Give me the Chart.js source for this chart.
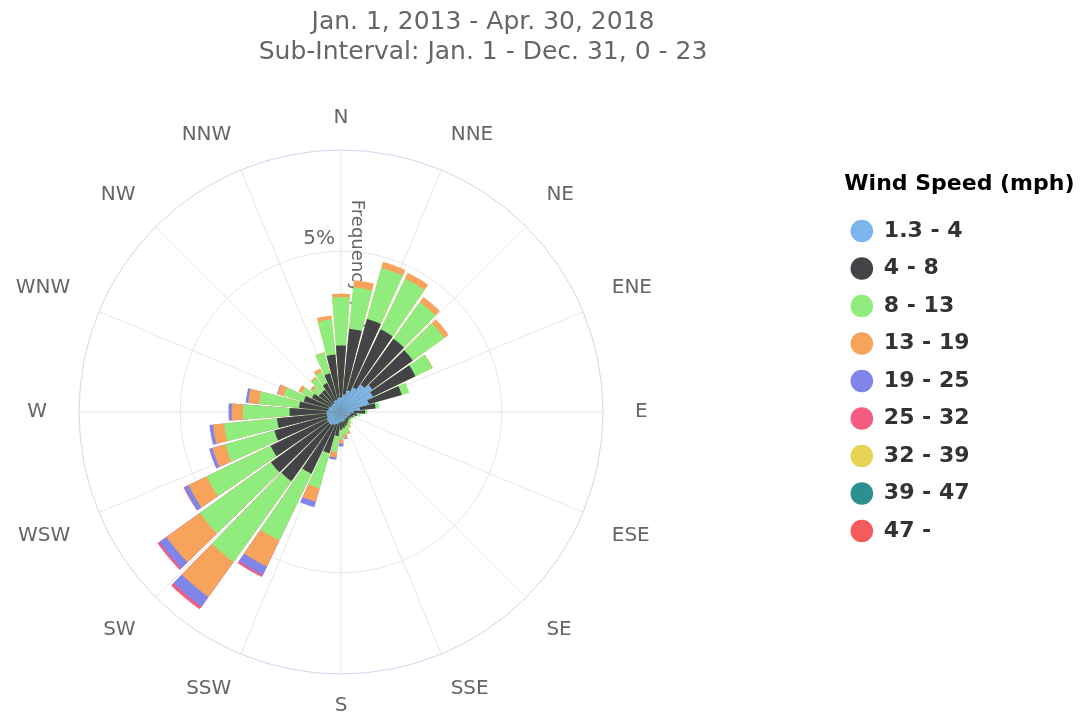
<!DOCTYPE html>
<html>
<head>
<meta charset="utf-8">
<title>Wind Rose</title>
<script src="https://cdn.jsdelivr.net/npm/chart.js@4.4.1/dist/chart.umd.min.js"></script>
<style>
    html, body { margin: 0; padding: 0; background: #fff; }
</style>
</head>
<body>
<canvas id="rose" width="1086" height="719"></canvas>
<script>
// compass points shown round the rose
const compassLabels = ['N', 'NNE', 'NE', 'ENE', 'E', 'ESE', 'SE', 'SSE', 'S', 'SSW', 'SW', 'WSW', 'W', 'WNW', 'NW', 'NNW']

// wind direction bins, degrees clockwise from north
const directions = [0, 10, 20, 30, 40, 50, 60, 70, 80, 90, 100, 110, 120, 130, 140, 150, 160, 170,
    180, 190, 200, 210, 220, 230, 240, 250, 260, 270, 280, 290, 300, 310, 320, 330, 340, 350]

const speedBins = ['1.3 - 4', '4 - 8', '8 - 13', '13 - 19', '19 - 25', '25 - 32', '32 - 39', '39 - 47', '47 -']
const binColors = ['#7cb5ec', '#434348', '#90ed7d', '#f7a35c', '#8085e9', '#f15c80', '#e4d354', '#2b908f', '#f45b5b']

// frequency (%) per direction for each speed bin
const freq_1_4 = [0.45, 0.55, 0.70, 0.85, 1.05, 1.20, 1.10, 0.90, 0.60, 0.40, 0.30, 0.28, 0.25, 0.25, 0.25, 0.25, 0.28, 0.30,
    0.30, 0.35, 0.40, 0.45, 0.50, 0.50, 0.50, 0.45, 0.45, 0.45, 0.40, 0.40, 0.35, 0.35, 0.35, 0.40, 0.40, 0.45]
const freq_4_8 = [1.62, 2.05, 2.30, 2.00, 1.75, 1.55, 1.47, 1.06, 0.48, 0.35, 0.20, 0.12, 0.10, 0.08, 0.10, 0.15, 0.17, 0.20,
    0.25, 0.40, 0.93, 1.68, 2.15, 2.18, 1.93, 1.70, 1.55, 1.15, 0.91, 0.80, 0.65, 0.50, 0.50, 0.60, 0.85, 1.35]
const freq_8_13 = [1.50, 1.30, 1.65, 1.75, 1.40, 1.20, 0.58, 0.24, 0.12, 0.07, 0.10, 0.08, 0.07, 0.07, 0.10, 0.12, 0.20, 0.22,
    0.30, 0.50, 1.14, 2.30, 3.09, 2.72, 2.21, 1.59, 1.65, 1.45, 1.25, 0.65, 0.35, 0.25, 0.45, 0.40, 0.67, 1.10]
const freq_13_19 = [0.11, 0.22, 0.20, 0.20, 0.20, 0.17, 0.02, 0, 0, 0, 0, 0, 0, 0, 0.02, 0.04, 0.07, 0.10,
    0.13, 0.17, 0.43, 0.90, 1.34, 1.28, 0.62, 0.41, 0.35, 0.35, 0.34, 0.20, 0.12, 0.08, 0.05, 0.10, 0.02, 0.12]
const freq_19_25 = [0, 0, 0, 0, 0, 0, 0, 0, 0, 0, 0, 0, 0, 0, 0, 0, 0, 0.03,
    0.09, 0.07, 0.18, 0.29, 0.37, 0.27, 0.15, 0.11, 0.11, 0.10, 0.08, 0.02, 0, 0, 0, 0, 0, 0]
const freq_25_32 = [0, 0, 0, 0, 0, 0, 0, 0, 0, 0, 0, 0, 0, 0, 0, 0, 0, 0,
    0, 0, 0, 0.07, 0.10, 0.07, 0.02, 0, 0, 0, 0, 0, 0, 0, 0, 0, 0, 0]
const freq_32_39 = [0, 0, 0, 0, 0, 0, 0, 0, 0, 0, 0, 0, 0, 0, 0, 0, 0, 0,
    0, 0, 0, 0, 0, 0, 0, 0, 0, 0, 0, 0, 0, 0, 0, 0, 0, 0]
const freq_39_47 = [0, 0, 0, 0, 0, 0, 0, 0, 0, 0, 0, 0, 0, 0, 0, 0, 0, 0,
    0, 0, 0, 0, 0, 0, 0, 0, 0, 0, 0, 0, 0, 0, 0, 0, 0, 0]
const freq_47 = [0, 0, 0, 0, 0, 0, 0, 0, 0, 0, 0, 0, 0, 0, 0, 0, 0, 0,
    0, 0, 0, 0, 0, 0, 0, 0, 0, 0, 0, 0, 0, 0, 0, 0, 0, 0]

const series = [freq_1_4, freq_4_8, freq_8_13, freq_13_19, freq_19_25, freq_25_32, freq_32_39, freq_39_47, freq_47]
const rMax = 8.15

// polar area slots: a bar per direction with a small empty slot between bars.
// the north bar is split in two halves so it sits centred on the N line
const barWidth = 8.8
const gapWidth = 10 - barWidth
const slotDir = [0, -1]
const slotAngle = [barWidth / 2, gapWidth]
for (let d = 1; d < directions.length; d++) {
    slotDir.push(d, -1)
    slotAngle.push(barWidth, gapWidth)
}
slotDir.push(0)
slotAngle.push(barWidth / 2)

// stacking: each dataset holds the running total, smaller totals are drawn on top
let running = directions.map(() => 0)
const datasets = series.map((values, k) => {
    running = running.map((r, d) => r + values[d])
    const top = running.slice()
    return {
        label: speedBins[k],
        data: slotDir.map(d => (d < 0 || values[d] === 0) ? 0 : top[d]),
        backgroundColor: binColors[k],
        borderWidth: 0,
        angle: slotAngle
    }
})

const extraText = {
    id: 'extraText',
    beforeDatasetsDraw(chart) {
        const r = chart.scales.r
        const ctx = chart.ctx
        ctx.save()
        ctx.fillStyle = '#666'
        ctx.font = '20px "DejaVu Sans"'
        ctx.textAlign = 'right'
        ctx.textBaseline = 'bottom'
        ctx.fillText('5%', r.xCenter - 6, r.yCenter - r.getDistanceFromCenterForValue(5) - 2)

        // axis title runs down the north line, under the bars
        ctx.font = '18px "DejaVu Sans"'
        ctx.translate(r.xCenter + 16, r.yCenter - r.drawingArea * 0.81)
        ctx.rotate(Math.PI / 2)
        ctx.textAlign = 'left'
        ctx.textBaseline = 'middle'
        ctx.fillText('Frequency (%)', 0, 0)
        ctx.restore()
    },
    afterDraw(chart) {
        // legend heading is wider than the legend box (which clips), so draw it here
        const lg = chart.legend
        const ctx = chart.ctx
        ctx.save()
        ctx.fillStyle = '#000'
        ctx.font = 'bold 22px "DejaVu Sans"'
        ctx.textAlign = 'left'
        ctx.textBaseline = 'middle'
        ctx.fillText('Wind Speed (mph)', lg.left + 9, (lg.top + lg.bottom) / 2 - 175)
        ctx.restore()
    }
}

Chart.defaults.font.family = '"DejaVu Sans"'

new Chart(document.getElementById('rose'), {
    type: 'polarArea',
    data: {
        labels: slotDir.map(d => d < 0 ? '' : directions[d] + '°'),
        datasets: datasets
    },
    plugins: [extraText],
    options: {
        responsive: false,
        animation: false,
        layout: {
            // negative left only moves the page title, the rose stays at x >= 0
            padding: {top: 0, left: -13.5, right: 106.5, bottom: 1}
        },
        scales: {
            r: {
                type: 'radialLinear',
                labels: compassLabels,
                startAngle: 0,
                min: 0,
                max: rMax,
                ticks: {stepSize: 5, display: false},
                grid: {
                    circular: true,
                    lineWidth: 1,
                    color: ctx => (ctx.tick && ctx.tick.value >= rMax - 0.001) ? '#ccd6eb' : '#e6e6e6'
                },
                angleLines: {display: true, color: '#e6e6e6', lineWidth: 1},
                pointLabels: {
                    display: true,
                    color: '#666',
                    font: {size: 20},
                    padding: ctx => 20 + 12 * Math.abs(Math.sin(ctx.index * Math.PI / 8))
                }
            }
        },
        plugins: {
            title: {
                display: true,
                text: ['Jan. 1, 2013 - Apr. 30, 2018', 'Sub-Interval: Jan. 1 - Dec. 31, 0 - 23'],
                color: '#666',
                font: {size: 25, weight: 'normal', lineHeight: 1.2},
                padding: {top: 7, bottom: 39}
            },
            // empty box that keeps the rose clear of the legend
            subtitle: {
                display: true,
                position: 'right',
                weight: 0,
                text: '',
                font: {size: 10},
                padding: {top: 156, bottom: 0}
            },
            legend: {
                position: 'right',
                align: 'center',
                onClick: () => {},
                // keeps room for the heading drawn in extraText
                title: {
                    display: true,
                    text: '',
                    font: {size: 22, weight: 'bold'},
                    padding: {top: 10, bottom: 7.6}
                },
                labels: {
                    usePointStyle: true,
                    boxWidth: 22,
                    boxHeight: 16,
                    padding: 15.5,
                    color: '#333',
                    font: {size: 22, weight: 'bold'},
                    generateLabels: chart => chart.data.datasets.map((ds, i) => ({
                        text: ds.label,
                        fillStyle: ds.backgroundColor,
                        strokeStyle: ds.backgroundColor,
                        fontColor: '#333',
                        lineWidth: 0,
                        pointStyle: 'circle',
                        hidden: false,
                        datasetIndex: i
                    }))
                }
            },
            tooltip: {enabled: false}
        }
    }
})
</script>
</body>
</html>
